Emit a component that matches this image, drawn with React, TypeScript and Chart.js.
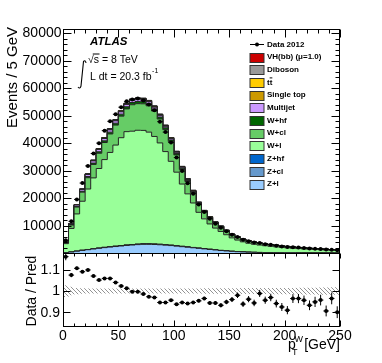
import React, { useEffect, useRef } from 'react';
import { Chart, registerables } from 'chart.js';

Chart.register(...registerables);

const FONT = '"Liberation Sans", Arial, Helvetica, sans-serif';

// bin edges in GeV (5 GeV bins)
const EDGES = [0,5,10,15,20,25,30,35,40,45,50,55,60,65,70,75,80,85,90,95,100,105,110,115,120,125,130,135,140,145,150,155,160,165,170,175,180,185,190,195,200,205,210,215,220,225,230,235,240,245,250];

// MC components (events / bin)
const ZL = [100,350,650,950,1200,1450,1700,1950,2150,2350,2550,2750,2900,3050,3150,3150,3100,3000,2850,2700,2500,2300,2100,1900,1700,1500,1300,1100,900,750,600,480,380,300,240,190,150,120,100,80,65,55,45,38,32,27,23,20,17,15];
const ZCL = [5,18,33,48,60,72,85,97,108,118,128,138,145,152,157,157,155,150,142,135,125,115,105,95,85,75,65,55,45,38,30,24,19,15,12,10,8,6,5,4,3,3,2,2,2,1,1,1,1,1];
const ZHF = [2,6,11,16,20,24,28,32,36,39,43,46,48,51,52,52,52,50,47,45,42,38,35,32,28,25,22,18,15,13,10,8,6,5,4,3,3,2,2,1,1,1,1,1,1,0,0,0,0,0];
const WL = [3300,8570,13520,17820,22000,25780,28930,31910,34300,36760,39230,41220,41230,41400,41250,40620,39100,36850,33860,30470,26740,22630,19280,16170,12990,10820,9190,7890,6880,5840,4870,4200,3655,3217,2917,2686,2485,2316,2138,1961,1817,1669,1561,1449,1337,1241,1150,1059,968,883];
const WCL = [350,1230,2500,3300,4120,4900,5540,6210,6730,7275,7835,8280,9625,9680,9680,9575,9240,8705,7990,7195,6290,5295,4505,3770,3000,2470,2100,1785,1560,1310,1085,925,800,700,635,586,545,509,469,429,398,365,342,318,292,270,250,228,208,189];
const WHF = [60,160,260,340,420,490,550,600,650,700,740,780,800,800,800,790,760,720,660,600,530,450,390,330,270,230,195,170,150,130,110,95,85,75,68,62,57,53,49,45,42,39,36,34,32,30,28,26,24,22];
const MULTIJET = [150,300,500,650,750,800,850,850,850,850,850,850,800,800,750,700,650,600,550,480,420,360,300,250,210,180,150,130,110,95,80,70,60,52,45,40,35,31,28,25,22,20,18,16,14,13,12,11,10,9];
const STOP = [8,25,45,65,80,95,110,120,130,140,145,150,155,155,155,150,145,140,130,120,110,100,90,80,70,62,55,49,44,40,36,32,29,27,25,23,21,20,19,18,17,16,15,14,13,12,11,11,10,10];
const TTBAR = [10,30,55,80,100,120,140,155,170,180,190,200,205,210,210,210,205,200,190,180,170,155,140,125,110,100,90,80,72,65,58,52,47,43,40,37,34,32,30,28,26,24,22,21,20,19,18,17,16,15];
const DIBOSON = [5,15,30,40,50,60,70,75,80,85,90,92,95,95,95,93,90,85,80,75,68,60,53,47,41,36,32,28,25,22,20,18,16,15,14,13,12,11,10,9,9,8,8,7,7,6,6,6,5,5];
const VH = [0.5,1,2,3,4,5,5,6,6,6,7,7,7,7,7,7,7,6,6,6,5,5,4,4,3,3,3,3,2,2,2,2,2,2,1,1,1,1,1,1,1,1,1,1,1,1,1,1,1,1];

// observed data 2012 (events / bin)
const DATA = [4640,11513,19501,25444,31680,36200,39976,44520,47912,50489,53043,55209,55832,56231,55512,54002,51895,47773,43989,40194,34706,29799,25407,21569,17649,14958,12461,10667,9143,7877,6624,5788,4784,4281,3776,3610,3206,3007,2682,2405,2184,2123,1978,1818,1633,1537,1436,1250,1216,1035];

// relative MC statistical uncertainty (hatched band)
const BAND_REL = [0.028,0.020,0.015,0.013,0.012,0.012,0.012,0.012,0.012,0.012,0.012,0.012,0.012,0.012,0.012,0.012,0.012,0.012,0.012,0.012,0.012,0.012,0.012,0.012,0.012,0.013,0.013,0.013,0.013,0.013,0.013,0.013,0.014,0.014,0.014,0.014,0.014,0.015,0.015,0.015,0.015,0.015,0.016,0.016,0.016,0.016,0.017,0.017,0.018,0.018];

const Y_TICKS = [10000,20000,30000,40000,50000,60000,70000,80000];
const R_TICKS = [0.9,1.0,1.1];
const R_TICK_LABELS = ['0.9','1','1.1'];
const X_TICKS = [0,50,100,150,200,250];

// stack order: bottom -> top
const COMPONENTS = [
  { label: 'Z+l', data: ZL, color: '#99ccff' },
  { label: 'Z+cl', data: ZCL, color: '#6699cc' },
  { label: 'Z+hf', data: ZHF, color: '#0066cc' },
  { label: 'W+l', data: WL, color: '#99ff99' },
  { label: 'W+cl', data: WCL, color: '#66cc66' },
  { label: 'W+hf', data: WHF, color: '#006600' },
  { label: 'Multijet', data: MULTIJET, color: '#cc99ff' },
  { label: 'Single top', data: STOP, color: '#cc9900' },
  { label: 'tt', data: TTBAR, color: '#ffcc00' },
  { label: 'Diboson', data: DIBOSON, color: '#999999' },
  { label: 'VH(bb) (\u03bc=1.0)', data: VH, color: '#cc0000' },
];

const NB = DATA.length;
const MC_TOTAL = DATA.map((_, i) => COMPONENTS.reduce((s, c) => s + c.data[i], 0));
const CENTERS = DATA.map((_, i) => (EDGES[i] + EDGES[i + 1]) / 2);
const RATIO = DATA.map((d, i) => d / MC_TOTAL[i]);
const RATIO_ERR = DATA.map((d, i) => Math.sqrt(d) / MC_TOTAL[i]);

const stepPts = (vals: number[]) =>
  vals.map((v, i) => ({ x: EDGES[i], y: v })).concat([{ x: EDGES[vals.length], y: vals[vals.length - 1] }]);

const LEGEND = [
  { label: 'Data 2012', color: null },
  { label: 'VH(bb) (\u03bc=1.0)', color: '#cc0000' },
  { label: 'Diboson', color: '#999999' },
  { label: 'tt', color: '#ffcc00', bar: true },
  { label: 'Single top', color: '#cc9900' },
  { label: 'Multijet', color: '#cc99ff' },
  { label: 'W+hf', color: '#006600' },
  { label: 'W+cl', color: '#66cc66' },
  { label: 'W+l', color: '#99ff99' },
  { label: 'Z+hf', color: '#0066cc' },
  { label: 'Z+cl', color: '#6699cc' },
  { label: 'Z+l', color: '#99ccff' },
];

const decor = {
  id: 'decor',
  afterDatasetsDraw(chart: any) {
    const ctx = chart.ctx;
    const xs = chart.scales.x, ys = chart.scales.y, ys2 = chart.scales.y2;
    ctx.save();
    ctx.strokeStyle = '#000';
    ctx.lineWidth = 1;
    ctx.beginPath();
    for (let i = 0; i < NB; i++) {
      const xl = xs.getPixelForValue(EDGES[i]);
      const xr = xs.getPixelForValue(EDGES[i + 1]);
      const xc = xs.getPixelForValue(CENTERS[i]);
      const e = Math.sqrt(DATA[i]);
      const py = ys.getPixelForValue(DATA[i]);
      ctx.moveTo(xl, py); ctx.lineTo(xr, py);
      ctx.moveTo(xc, ys.getPixelForValue(DATA[i] + e)); ctx.lineTo(xc, ys.getPixelForValue(DATA[i] - e));
    }
    ctx.stroke();
    ctx.save();
    ctx.beginPath();
    ctx.rect(xs.left, ys2.top, xs.right - xs.left, ys2.bottom - ys2.top);
    ctx.clip();
    ctx.beginPath();
    for (let i = 0; i < NB; i++) {
      const xl = xs.getPixelForValue(EDGES[i]);
      const xr = xs.getPixelForValue(EDGES[i + 1]);
      const xc = xs.getPixelForValue(CENTERS[i]);
      const py = ys2.getPixelForValue(RATIO[i]);
      ctx.moveTo(xl, py); ctx.lineTo(xr, py);
      ctx.moveTo(xc, ys2.getPixelForValue(RATIO[i] + RATIO_ERR[i]));
      ctx.lineTo(xc, ys2.getPixelForValue(RATIO[i] - RATIO_ERR[i]));
    }
    ctx.stroke();
    ctx.restore();
    ctx.restore();
  },
  afterDraw(chart: any) {
    const ctx = chart.ctx;
    const xs = chart.scales.x, ys = chart.scales.y, ys2 = chart.scales.y2;
    const L = Math.round(xs.left) + 0.5, R = Math.round(xs.right) - 0.5;
    const mT = Math.round(ys.top) + 0.5, mB = Math.round(ys.bottom) + 0.5;
    const rT = mB, rB = Math.round(ys2.bottom) - 0.5;
    ctx.save();
    ctx.strokeStyle = '#000';
    ctx.lineWidth = 1;
    ctx.strokeRect(L, mT, R - L, mB - mT);
    ctx.strokeRect(L, rT, R - L, rB - rT);
    ctx.beginPath();
    for (let v = 0; v <= 250; v += 10) {
      const px = Math.round(xs.getPixelForValue(v)) + 0.5;
      const major = v % 50 === 0;
      ctx.moveTo(px, mT); ctx.lineTo(px, mT + (major ? 8 : 4));
      ctx.moveTo(px, rT); ctx.lineTo(px, rT + (major ? 5 : 3));
      ctx.moveTo(px, rB); ctx.lineTo(px, rB - (major ? 6 : 3));
    }
    for (let v = 0; v <= 80000; v += 2000) {
      const py = Math.round(ys.getPixelForValue(v)) + 0.5;
      const major = v % 10000 === 0;
      const len = major ? 8 : 4;
      ctx.moveTo(L, py); ctx.lineTo(L + len, py);
      ctx.moveTo(R, py); ctx.lineTo(R - len, py);
    }
    for (const v of R_TICKS) {
      const py = Math.round(ys2.getPixelForValue(v)) + 0.5;
      ctx.moveTo(L, py); ctx.lineTo(L + 7, py);
      ctx.moveTo(R, py); ctx.lineTo(R - 7, py);
    }
    ctx.stroke();

    ctx.fillStyle = '#000';
    // y tick labels
    ctx.font = `14px ${FONT}`;
    ctx.textAlign = 'right';
    ctx.textBaseline = 'middle';
    for (const v of Y_TICKS) ctx.fillText(String(v), 61.5, ys.getPixelForValue(v) + 0.5);
    R_TICKS.forEach((v, i) => ctx.fillText(R_TICK_LABELS[i], 60, ys2.getPixelForValue(v) + 0.5));

    ctx.save();
    ctx.font = `15px ${FONT}`;
    ctx.translate(13, 27);
    ctx.rotate(-Math.PI / 2);
    ctx.textAlign = 'right';
    ctx.textBaseline = 'middle';
    ctx.fillText('Events / 5 GeV', 0, 0);
    ctx.restore();
    ctx.save();
    ctx.font = `14px ${FONT}`;
    ctx.translate(32, ys2.getPixelForValue(1.0));
    ctx.rotate(-Math.PI / 2);
    ctx.textAlign = 'center';
    ctx.textBaseline = 'middle';
    ctx.fillText('Data / Pred', 0, 0);
    ctx.restore();

    ctx.textBaseline = 'alphabetic';
    ctx.textAlign = 'right';
    ctx.font = `14px ${FONT}`;
    ctx.fillText('[GeV]', 340, 349);
    ctx.textAlign = 'left';
    ctx.fillText('p', 288, 349);
    ctx.font = `9px ${FONT}`;
    ctx.fillText('W', 294.5, 342);
    ctx.fillText('T', 292, 355);

    ctx.textBaseline = 'middle';
    ctx.font = `italic bold 11.5px ${FONT}`;
    ctx.fillText('ATLAS', 90, 42);
    ctx.font = `10.5px ${FONT}`;
    const sx = 88, sy = 60.5;
    ctx.fillText('\u221as = 8 TeV', sx, sy);
    const wr = ctx.measureText('\u221a').width;
    const ws = ctx.measureText('s').width;
    ctx.beginPath();
    ctx.moveTo(sx + wr - 1, sy - 6.5);
    ctx.lineTo(sx + wr + ws + 0.5, sy - 6.5);
    ctx.stroke();
    ctx.fillText('L dt = 20.3 fb', 90, 77);
    const wl = ctx.measureText('L dt = 20.3 fb').width;
    ctx.font = `7px ${FONT}`;
    ctx.fillText('-1', 90 + wl + 0.5, 71.5);
    ctx.beginPath();
    ctx.lineWidth = 1.1;
    ctx.moveTo(86, 63);
    ctx.quadraticCurveTo(85.5, 59.5, 83.5, 61.5);
    ctx.lineTo(81, 86);
    ctx.quadraticCurveTo(80, 89.5, 78, 87);
    ctx.stroke();
    ctx.lineWidth = 1;

    ctx.font = `bold 8px ${FONT}`;
    ctx.textBaseline = 'middle';
    LEGEND.forEach((e, i) => {
      const cy = 44.3 + i * 12.7;
      if (e.color === null) {
        ctx.beginPath();
        ctx.moveTo(250, Math.round(cy) + 0.5);
        ctx.lineTo(264, Math.round(cy) + 0.5);
        ctx.stroke();
        ctx.beginPath();
        ctx.arc(257, Math.round(cy) + 0.5, 2, 0, Math.PI * 2);
        ctx.fill();
      } else {
        const top = Math.round(cy - 4.5) + 0.5;
        ctx.fillStyle = e.color;
        ctx.fillRect(250, top, 14, 9);
        ctx.strokeStyle = '#333';
        ctx.strokeRect(250, top, 14, 9);
        ctx.strokeStyle = '#000';
        ctx.fillStyle = '#000';
      }
      ctx.fillText(e.label, 267, cy);
      if ((e as any).bar) {
        const wt = ctx.measureText('t').width;
        ctx.beginPath();
        ctx.moveTo(267 + wt, cy - 4.5);
        ctx.lineTo(267 + 2 * wt, cy - 4.5);
        ctx.stroke();
      }
    });
    ctx.restore();
  },
};

export default function App() {
  const ref = useRef<HTMLCanvasElement>(null);
  useEffect(() => {
    const canvas = ref.current!;
    const c2 = canvas.getContext('2d')!;
    const tile = document.createElement('canvas');
    tile.width = 4; tile.height = 4;
    const g = tile.getContext('2d')!;
    g.strokeStyle = '#777';
    g.lineWidth = 0.8;
    g.beginPath();
    g.moveTo(0, 0); g.lineTo(4, 4);
    g.moveTo(-1, 3); g.lineTo(1, 5);
    g.moveTo(3, -1); g.lineTo(5, 1);
    g.stroke();
    const hatch = c2.createPattern(tile, 'repeat');

    Chart.defaults.font.family = FONT;
    Chart.defaults.color = '#000';

    const mcSets = COMPONENTS.map((c, k) => ({
      type: 'line' as const,
      label: c.label,
      data: stepPts(c.data),
      yAxisID: 'y',
      stack: 'mc',
      stepped: 'before' as const,
      fill: k === 0 ? 'origin' : '-1',
      backgroundColor: c.color,
      borderColor: '#222',
      borderWidth: 1,
      pointRadius: 0,
    }));

    const chart = new Chart(canvas, {
      type: 'line',
      data: {
        datasets: [
          {
            label: 'Data 2012',
            data: DATA.map((v, i) => ({ x: CENTERS[i], y: v })),
            yAxisID: 'y',
            stack: 'data',
            showLine: false,
            pointRadius: 2,
            pointBackgroundColor: '#000',
            pointBorderWidth: 0,
            fill: false,
          } as any,
          {
            label: 'ratio',
            data: RATIO.map((v, i) => ({ x: CENTERS[i], y: v })),
            yAxisID: 'y2',
            showLine: false,
            pointRadius: 2,
            pointBackgroundColor: '#000',
            pointBorderWidth: 0,
            fill: false,
          },
          {
            label: 'band up',
            data: stepPts(BAND_REL.map((b) => 1 + b)),
            yAxisID: 'y2',
            stepped: 'before',
            fill: '+1',
            backgroundColor: hatch,
            borderWidth: 0,
            pointRadius: 0,
          },
          {
            label: 'band low',
            data: stepPts(BAND_REL.map((b) => 1 - b)),
            yAxisID: 'y2',
            stepped: 'before',
            fill: false,
            borderWidth: 0,
            pointRadius: 0,
          },
          ...mcSets,
        ] as any,
      },
      options: {
        responsive: false,
        animation: false,
        events: [],
        layout: { padding: { left: 0, right: 42, top: 29, bottom: 0 } },
        plugins: { legend: { display: false }, tooltip: { enabled: false } },
        elements: { line: { tension: 0 } },
        scales: {
          x: {
            type: 'linear',
            min: 0,
            max: 250,
            bounds: 'data',
            grid: { display: false, drawTicks: false },
            border: { display: false },
            ticks: {
              stepSize: 50,
              padding: 1,
              maxRotation: 0,
              autoSkip: false,
              font: { size: 14 },
              callback: (v: any) => (X_TICKS.includes(v) ? String(v) : ''),
            },
            afterFit: (s: any) => { s.height = 36; },
          },
          y2: {
            type: 'linear',
            stack: 'panels',
            stackWeight: 74,
            stacked: false,
            min: 0.83,
            max: 1.18,
            bounds: 'data',
            grid: { display: false, drawTicks: false },
            border: { display: false },
            ticks: { display: false, stepSize: 0.1 },
            afterFit: (s: any) => { s.width = 63; },
          },
          y: {
            type: 'linear',
            stack: 'panels',
            stackWeight: 224,
            stacked: true,
            min: 0,
            max: 81500,
            bounds: 'data',
            grid: { display: false, drawTicks: false },
            border: { display: false },
            ticks: { display: false, stepSize: 10000 },
            afterFit: (s: any) => { s.width = 63; },
          },
        } as any,
      },
      plugins: [decor],
    });
    return () => chart.destroy();
  }, []);

  return (
    <div style={{ position: 'fixed', left: 0, top: 0, width: 382, height: 363, background: '#fff' }}>
      <canvas ref={ref} width={382} height={363} style={{ width: 382, height: 363, display: 'block' }} />
    </div>
  );
}
